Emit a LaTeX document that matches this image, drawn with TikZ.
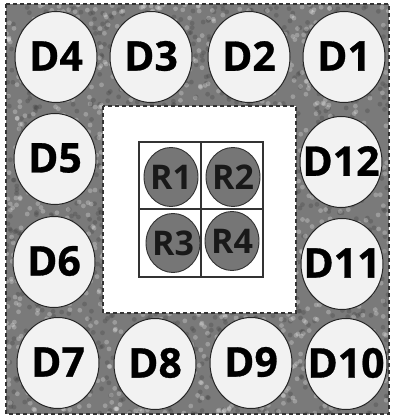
\documentclass[tikz,border=0pt]{standalone}
\usepackage{fontspec}
\setmainfont{Open Sans}
\newfontfamily\dfont[FakeBold=0.7]{Open Sans Bold}
\newfontfamily\rfont{Open Sans Bold}
\usetikzlibrary{shapes.geometric}
\definecolor{bgtex}{RGB}{122,122,122}
\definecolor{dfill}{RGB}{242,242,242}
\definecolor{rfill}{RGB}{118,118,118}
\tikzset{
  dcirc/.style={ellipse, draw=black!85, line width=1pt, fill=dfill, minimum width=82pt, minimum height=91pt, inner sep=0pt},
  dtext/.style={font=\fontsize{41}{41}\dfont, text=black, inner sep=0pt},
  rcirc/.style={ellipse, draw=black!80, line width=0.9pt, fill=rfill, minimum width=54pt, minimum height=59pt, inner sep=0pt},
  rtext/.style={font=\fontsize{34}{34}\rfont, text=black!90, inner sep=0pt},
  dashbox/.style={draw=black!80, line width=1.3pt, dash pattern=on 4pt off 3pt},
  grid/.style={draw=black!80, line width=1.1pt}
}
\begin{document}
\begin{tikzpicture}[x=1pt,y=-1pt]
\useasboundingbox (0,0) rectangle (395,419);
\fill[white] (0,0) rectangle (395,419);
% outer textured area
\fill[bgtex] (6,4) rectangle (389,414);
\pgfmathsetseed{7}
\begin{scope}
\clip (6,4) rectangle (389,414);
\foreach \i in {1,...,1400}{
  \pgfmathsetmacro{\xx}{6+rnd*383}
  \pgfmathsetmacro{\yy}{4+rnd*410}
  \fill[black!75, opacity=0.3] (\xx,\yy) circle (2.4pt);
}
\foreach \i in {1,...,1400}{
  \pgfmathsetmacro{\xx}{6+rnd*383}
  \pgfmathsetmacro{\yy}{4+rnd*410}
  \fill[white, opacity=0.25] (\xx,\yy) circle (2.4pt);
}
\end{scope}
\draw[dashbox] (6,4) rectangle (389,414);
% inner white area
\fill[white] (103,106) rectangle (296,313);
\draw[dashbox] (103,106) rectangle (296,313);
% grid
\draw[grid] (139,142) rectangle (263,277);
\draw[grid] (201,142) -- (201,277);
\draw[grid] (139,209) -- (263,209);
% R circles
\node[rcirc] (r1) at (171,177) {};
\node[rcirc] (r2) at (233,177) {};
\node[rcirc] (r3) at (173,243) {};
\node[rcirc] (r4) at (232,241) {};
\node[rtext] (r1t) at (r1) {R1};
\node[rtext] (r2t) at (r2) {R2};
\node[rtext] (r3t) at (r3) {R3};
\node[rtext] (r4t) at (r4) {R4};
% D circles
\node[dcirc] (d4) at (56,57) {};
\node[dcirc] (d3) at (151,57) {};
\node[dcirc] (d2) at (249,57) {};
\node[dcirc] (d1) at (344,57) {};
\node[dcirc] (d5) at (55,159) {};
\node[dcirc] (d12) at (341,162) {};
\node[dcirc] (d6) at (54,262) {};
\node[dcirc] (d11) at (342,264) {};
\node[dcirc] (d7) at (58,363) {};
\node[dcirc] (d8) at (155,364) {};
\node[dcirc] (d9) at (251,363) {};
\node[dcirc] (d10) at (346,364) {};
\foreach \n/\t in {d1/D1,d2/D2,d3/D3,d4/D4,d5/D5,d6/D6,d7/D7,d8/D8,d9/D9,d10/D10,d11/D11,d12/D12}
  \node[dtext] (\n t) at ([yshift=1pt]\n) {\t};
\end{tikzpicture}
\end{document}
